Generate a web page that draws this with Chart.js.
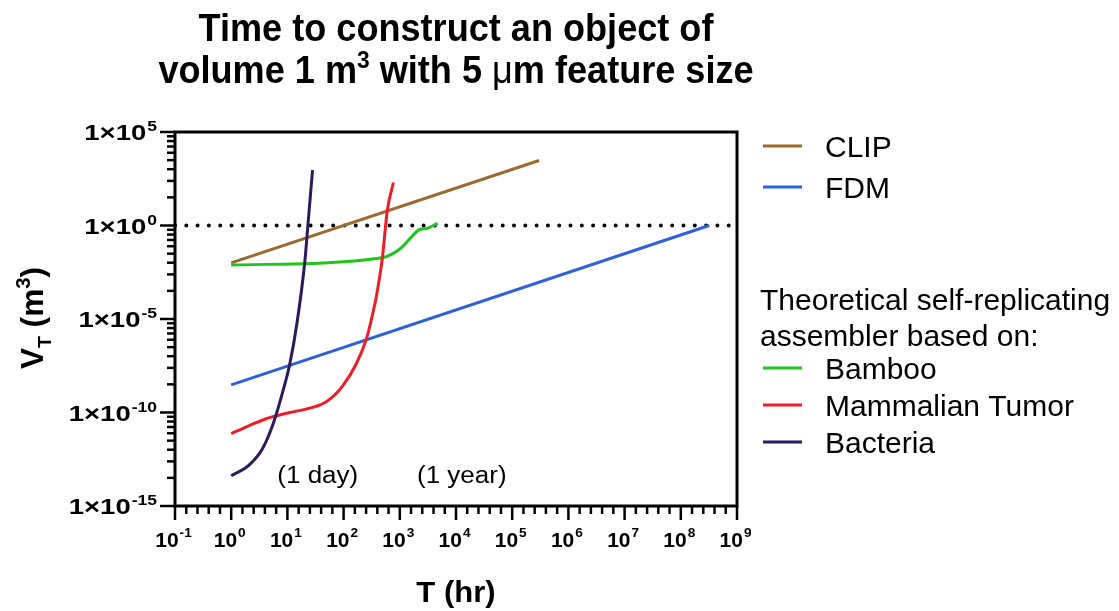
<!DOCTYPE html>
<html>
<head>
<meta charset="utf-8">
<script src="https://cdn.jsdelivr.net/npm/chart.js@4.4.1/dist/chart.umd.min.js"></script>
<style>
html, body { margin: 0; padding: 0; background: #fff; }
canvas { display: block; }
</style>
</head>
<body>
<canvas id="chart" width="1119" height="611"></canvas>
<script>
// T (hr) against V_T (m^3)
const clipT = [1, 3e5];
const clipV = [0.01, 3e3];

const fdmT = [1, 3.2e8];
const fdmV = [3e-9, 1];

const bambooT = [1, 480, 1000, 1700, 2250, 3000, 4700];
const bambooV = [0.0077, 0.019, 0.055, 0.29, 0.61, 0.69, 1.3];

const tumorT = [1, 2.1, 4.3, 11, 25, 50, 95, 170, 257, 316, 390, 490, 600, 770];
const tumorV = [7.4e-12, 2e-11, 4.8e-11, 1e-10, 1.7e-10, 3.9e-10, 2.5e-9, 4.3e-8, 9.5e-7, 1.1e-5, 2.2e-4, 0.019, 6.5, 200];

const bacteriaT = [1, 2.1, 3.6, 5.5, 8.3, 11, 15, 20.5, 23, 28];
const bacteriaV = [4.1e-14, 1.6e-13, 1.15e-12, 2.2e-11, 1.35e-9, 3.8e-8, 7.9e-6, 0.013, 0.8, 910];

// dotted reference at 1 m^3
const refT = [0.1, 1e9];
const refV = [1, 1];

// tick labels (exponents of 10)
const xTickExps = [-1, 0, 1, 2, 3, 4, 5, 6, 7, 8, 9];
const yTickExps = [5, 0, -5, -10, -15];

const notes = [
    { text: '(1 day)', hours: 24 },
    { text: '(1 year)', hours: 8760 }
];

const legendTop = ['CLIP', 'FDM'];
const legendNote = ['Theoretical self-replicating', 'assembler based on:'];
const legendBottom = ['Bamboo', 'Mammalian Tumor', 'Bacteria'];

const FONT = '"Liberation Sans", Arial, sans-serif';

function pts(xs, ys) {
    return xs.map((x, i) => ({ x: x, y: ys[i] }));
}

function series(label, xs, ys, color, curved) {
    return {
        label: label,
        data: pts(xs, ys),
        borderColor: color,
        backgroundColor: color,
        borderWidth: 3,
        pointRadius: 0,
        fill: false,
        cubicInterpolationMode: curved ? 'monotone' : 'default',
        tension: 0
    };
}

// draw text with a horizontal stretch
function txt(ctx, s, x, y, font, sx, align) {
    ctx.save();
    ctx.font = font;
    ctx.translate(x, y);
    ctx.scale(sx, 1);
    ctx.textAlign = align || 'left';
    ctx.textBaseline = 'alphabetic';
    ctx.fillText(s, 0, 0);
    ctx.restore();
}

function textW(ctx, s, font, sx) {
    ctx.save();
    ctx.font = font;
    const w = ctx.measureText(s).width * sx;
    ctx.restore();
    return w;
}

// pieces: [{t, font, dy}] drawn one after another
function drawPieces(ctx, pieces, x, y, sx) {
    let cx = x;
    pieces.forEach(p => {
        txt(ctx, p.t, cx, y + (p.dy || 0), p.font, sx);
        cx += textW(ctx, p.t, p.font, sx);
    });
}

function piecesW(ctx, pieces, sx) {
    return pieces.reduce((a, p) => a + textW(ctx, p.t, p.font, sx), 0);
}

const decorPlugin = {
    id: 'decor',
    afterDatasetsDraw(chart) {
        const ctx = chart.ctx;
        const a = chart.chartArea;
        const xs = chart.scales.x;
        const ys = chart.scales.y;
        ctx.save();
        ctx.fillStyle = '#000';
        ctx.strokeStyle = '#000';

        // frame
        ctx.lineWidth = 3;
        ctx.strokeRect(a.left, a.top, a.right - a.left, a.bottom - a.top);

        // x ticks
        ctx.lineWidth = 2.5;
        xTickExps.forEach((e, i) => {
            const px = xs.getPixelForValue(Math.pow(10, e));
            ctx.beginPath();
            ctx.moveTo(px, a.bottom);
            ctx.lineTo(px, a.bottom + 14);
            ctx.stroke();
            if (i < xTickExps.length - 1) {
                for (let j = 1; j < 5; j++) {
                    const mx = xs.getPixelForValue(Math.pow(10, e + j / 5));
                    ctx.beginPath();
                    ctx.moveTo(mx, a.bottom);
                    ctx.lineTo(mx, a.bottom + 8);
                    ctx.stroke();
                }
            }
            // label 10^e
            const bf = 'bold 20px ' + FONT;
            const ef = 'bold 13px ' + FONT;
            const sx = 1.05;
            const bw = textW(ctx, '10', bf, sx);
            const es = String(e);
            const ew = textW(ctx, es, ef, sx);
            const left = px - (bw + ew) / 2 - 2;
            txt(ctx, '10', left, 547, bf, sx);
            txt(ctx, es, left + bw + 1, 537, ef, sx);
        });

        // y ticks
        yTickExps.forEach((e, i) => {
            const py = ys.getPixelForValue(Math.pow(10, e));
            ctx.beginPath();
            ctx.moveTo(a.left, py);
            ctx.lineTo(a.left - 15, py);
            ctx.stroke();
            if (i < yTickExps.length - 1) {
                const lo = yTickExps[i + 1];
                for (let k = 2; k <= 9; k++) {
                    const my = ys.getPixelForValue(Math.pow(10, lo + (e - lo) * Math.log10(k)));
                    ctx.beginPath();
                    ctx.moveTo(a.left, my);
                    ctx.lineTo(a.left - 8, my);
                    ctx.stroke();
                }
            }
            const bf = 'bold 22px ' + FONT;
            const ef = 'bold 14px ' + FONT;
            const sx = 1.25;
            const es = String(e);
            const ew = textW(ctx, es, ef, sx);
            const right = a.left - 18;
            txt(ctx, es, right - ew, py - 1, ef, sx);
            txt(ctx, '1\u00d710', right - ew - 1, py + 8, bf, sx, 'right');
        });

        // notes
        notes.forEach(n => {
            const px = xs.getPixelForValue(n.hours) + 9;
            txt(ctx, n.text, px, 483, '23px ' + FONT, 1.13, 'center');
        });

        // axis titles
        txt(ctx, 'T (hr)', (a.left + a.right) / 2, 602, 'bold 29px ' + FONT, 1.07, 'center');

        const yPieces = [
            { t: 'V', font: 'bold 31px ' + FONT },
            { t: 'T', font: 'bold 19px ' + FONT, dy: 8 },
            { t: ' (m', font: 'bold 31px ' + FONT },
            { t: '3', font: 'bold 20px ' + FONT, dy: -13 },
            { t: ')', font: 'bold 31px ' + FONT }
        ];
        ctx.save();
        ctx.translate(43, 318);
        ctx.rotate(-Math.PI / 2);
        const yw = piecesW(ctx, yPieces, 1.02);
        drawPieces(ctx, yPieces, -yw / 2, 0, 1.02);
        ctx.restore();

        // title
        const cx = (a.left + a.right) / 2;
        txt(ctx, 'Time to construct an object of', cx, 41, 'bold 38px ' + FONT, 0.95, 'center');
        const tPieces = [
            { t: 'volume 1 m', font: 'bold 38px ' + FONT },
            { t: '3', font: 'bold 24px ' + FONT, dy: -15 },
            { t: ' with 5 ', font: 'bold 38px ' + FONT },
            { t: '\u03bc', font: '38px ' + FONT },
            { t: 'm feature size', font: 'bold 38px ' + FONT }
        ];
        const tw = piecesW(ctx, tPieces, 0.95);
        drawPieces(ctx, tPieces, cx - tw / 2, 83, 0.95);

        // legend
        const lf = '30px ' + FONT;
        const byLabel = {};
        chart.data.datasets.forEach(d => { byLabel[d.label] = d; });
        const swatch = (label, base) => {
            ctx.save();
            ctx.strokeStyle = byLabel[label].borderColor;
            ctx.lineWidth = 3;
            ctx.beginPath();
            ctx.moveTo(763, base - 11);
            ctx.lineTo(802, base - 11);
            ctx.stroke();
            ctx.restore();
            txt(ctx, label, 825, base, lf, 1);
        };
        [157, 198].forEach((b, i) => swatch(legendTop[i], b));
        [310, 346].forEach((b, i) => txt(ctx, legendNote[i], 760, b, lf, 1));
        [379, 416, 453].forEach((b, i) => swatch(legendBottom[i], b));

        ctx.restore();
    }
};

const ctx = document.getElementById('chart').getContext('2d');
new Chart(ctx, {
    type: 'line',
    data: {
        datasets: [
            series('Bacteria', bacteriaT, bacteriaV, '#2b1b5e', true),
            series('Mammalian Tumor', tumorT, tumorV, '#ee1c24', true),
            series('Bamboo', bambooT, bambooV, '#1fc41c', true),
            series('FDM', fdmT, fdmV, '#2b62d9', false),
            series('CLIP', clipT, clipV, '#9b6a2f', false),
            {
                label: 'ref',
                data: pts(refT, refV),
                borderColor: '#000',
                borderWidth: 4,
                borderDash: [0, 11.3],
                borderCapStyle: 'round',
                pointRadius: 0,
                fill: false
            }
        ]
    },
    options: {
        responsive: false,
        animation: false,
        layout: { padding: { left: 175, right: 382, top: 132, bottom: 105 } },
        plugins: {
            legend: { display: false },
            title: { display: false },
            tooltip: { enabled: false }
        },
        scales: {
            x: { type: 'logarithmic', min: 0.1, max: 1e9, display: false },
            y: { type: 'logarithmic', min: 1e-15, max: 1e5, display: false }
        }
    },
    plugins: [decorPlugin]
});
</script>
</body>
</html>
